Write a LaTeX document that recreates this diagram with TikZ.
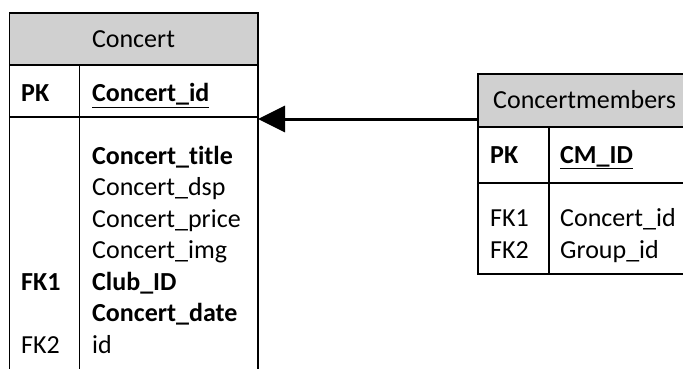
\documentclass[tikz,border=0pt]{standalone}
\usepackage{fontspec}
\setmainfont{Carlito}[Ligatures=NoCommon]
\usetikzlibrary{arrows.meta,positioning}

\begin{document}
\begin{tikzpicture}[
  x=1pt,y=-1pt,
  >={Triangle[length=27pt,width=26pt]},
  font=\fontsize{26}{31.5}\selectfont,
  hdr/.style={rectangle,draw=black,fill=hdrgray,line width=1.3pt,outer sep=0pt,
              anchor=north west,inner sep=0pt},
  cell/.style={rectangle,draw=black,fill=white,line width=1.3pt,outer sep=0pt,
               anchor=north west,inner sep=0pt},
  txt/.style={anchor=base west,inner sep=0pt},
  key/.style={txt,font=\fontsize{26}{31.5}\selectfont\bfseries},
  rel/.style={->,line width=3pt,draw=black},
]
  \definecolor{hdrgray}{HTML}{D0D0D0}
  \clip (0,0) rectangle (683,369);

  % Concert table
  \node[hdr,minimum width=248.5pt,minimum height=52pt] (concert) at (9.5,13) {};
  \node[cell,minimum width=248.5pt,minimum height=52pt] (concertpk) at (concert.south west) {};
  \node[cell,minimum width=248.5pt,minimum height=270pt] (concertbody) at (concertpk.south west) {};
  \draw[line width=1.3pt] (concertpk.north west -| 79.5,0) -- (concertbody.south west -| 79.5,0);
  \node[anchor=base,inner sep=0pt] (concerttitle) at (133.5,48) {Concert};

  \node[key] (concertpkl) at (21,102) {PK};
  \node[key] (concertid) at (92,102) {\underline{Concert\_id}};

  \node[key] (ctitle) at (92,164) {Concert\_title};
  \node[txt] (cdsp) at (92,195.5) {Concert\_dsp};
  \node[txt] (cprice) at (92,227) {Concert\_price};
  \node[txt] (cimg) at (92,258.5) {Concert\_img};
  \node[key] (cfk1) at (21,290) {FK1};
  \node[key] (cclub) at (92,290) {Club\_ID};
  \node[key] (cdate) at (92,321.5) {Concert\_date};
  \node[txt] (cfk2) at (21,353) {FK2};
  \node[txt] (cuid) at (92,353) {id};

  % Concertmembers table
  \node[hdr,minimum width=230pt,minimum height=53pt] (cm) at (478,74) {};
  \node[cell,minimum width=230pt,minimum height=56pt] (cmpk) at (cm.south west) {};
  \node[cell,minimum width=230pt,minimum height=91pt] (cmbody) at (cmpk.south west) {};
  \draw[line width=1.3pt] (cmpk.north west -| 549,0) -- (cmbody.south west -| 549,0);
  \node[txt] (cmtitle) at (493,109) {Concertmembers};

  \node[key] (cmpkl) at (490,163) {PK};
  \node[key] (cmid) at (560,163) {\underline{CM\_ID}};
  \node[txt] (cmfk1) at (490,226) {FK1};
  \node[txt] (cmconcert) at (560,226) {Concert\_id};
  \node[txt] (cmfk2) at (490,258) {FK2};
  \node[txt] (cmgroup) at (560,258) {Group\_id};

  % relation
  \coordinate (relend) at ([yshift=-2pt]concertpk.south east);
  \draw[rel] (cm.west |- relend) -- (relend);
\end{tikzpicture}
\end{document}
